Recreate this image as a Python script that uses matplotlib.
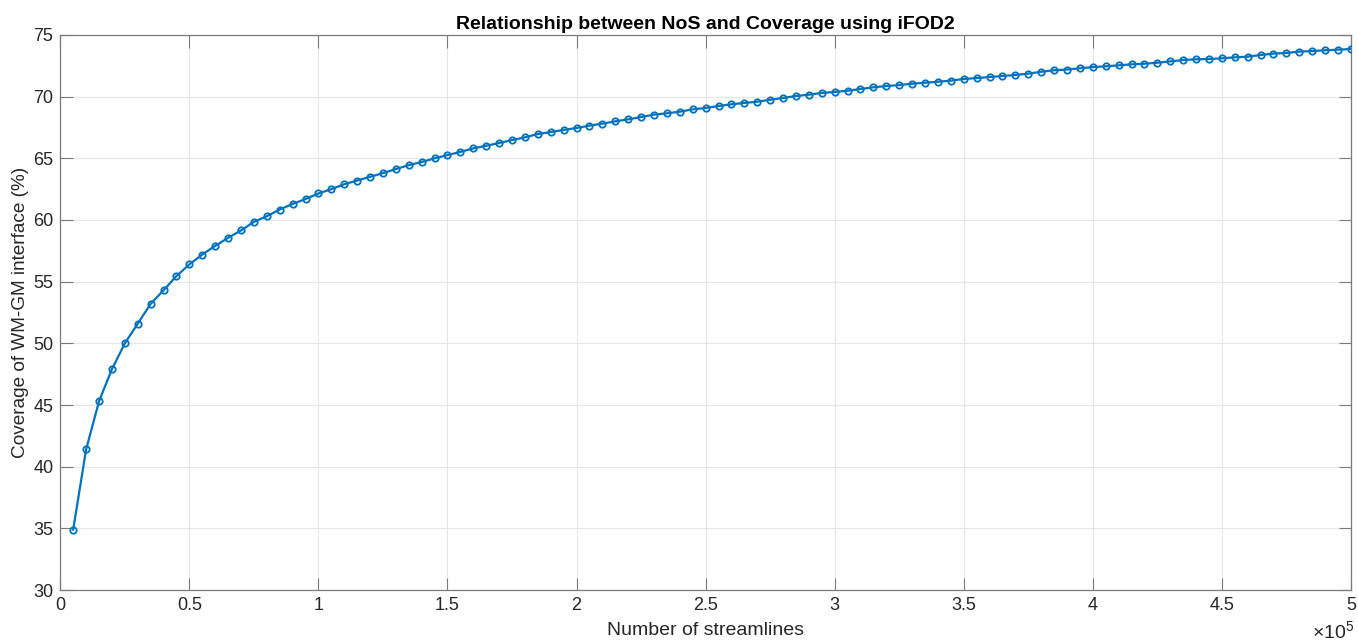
import numpy as np
import matplotlib
matplotlib.use("Agg")
import matplotlib.pyplot as plt
from matplotlib.ticker import FuncFormatter, MultipleLocator

plt.rcParams['font.family'] = ['Liberation Sans', 'DejaVu Sans']
plt.rcParams['mathtext.fontset'] = 'custom'
plt.rcParams['mathtext.rm'] = 'Liberation Sans'

# streamline counts (5k steps) and WM-GM coverage in %
n_streamlines = np.arange(5000, 500001, 5000)
coverage = [
    34.9, 41.4, 45.3, 47.9, 50.0, 51.6, 53.2, 54.3, 55.45, 56.4,
    57.2, 57.9, 58.55, 59.15, 59.85, 60.3, 60.85, 61.3, 61.7, 62.15,
    62.5, 62.9, 63.2, 63.5, 63.8, 64.13, 64.45, 64.7, 65.0, 65.26,
    65.52, 65.81, 66.02, 66.24, 66.48, 66.7, 66.97, 67.13, 67.3, 67.46,
    67.65, 67.81, 68.0, 68.16, 68.35, 68.54, 68.65, 68.78, 68.97, 69.08,
    69.24, 69.38, 69.49, 69.59, 69.75, 69.89, 70.05, 70.16, 70.3, 70.38,
    70.48, 70.62, 70.76, 70.86, 70.94, 71.05, 71.13, 71.21, 71.3, 71.43,
    71.51, 71.59, 71.67, 71.76, 71.86, 72.02, 72.14, 72.2, 72.3, 72.4,
    72.46, 72.54, 72.62, 72.67, 72.75, 72.86, 72.97, 73.03, 73.05, 73.11,
    73.19, 73.24, 73.38, 73.49, 73.54, 73.65, 73.7, 73.76, 73.81, 73.86,
]

axis_col = '#262626'

fig = plt.figure(figsize=(13.58, 6.43), dpi=100)
ax = fig.add_axes([0.0444, 0.0824, 0.9504, 0.8632])

ax.plot(n_streamlines, coverage, color='#0072BD', linewidth=1.6,
        marker='o', markersize=4.6, markerfacecolor='none',
        markeredgewidth=1.3, markeredgecolor='#0072BD', zorder=3)

ax.set_xlim(0, 5e5)
ax.set_ylim(30, 75)
ax.xaxis.set_major_locator(MultipleLocator(0.5e5))
ax.yaxis.set_major_locator(MultipleLocator(5))
ax.xaxis.set_major_formatter(FuncFormatter(lambda v, p: f"{v / 1e5:g}"))

ax.grid(True, color='#e6e6e6', linewidth=0.8, zorder=0)
ax.set_axisbelow(True)

for s in ax.spines.values():
    s.set_color('#7a7a7a')
    s.set_linewidth(0.9)

ax.tick_params(direction='in', length=9, width=0.8, color='#7a7a7a',
               top=True, right=True, labelsize=13, labelcolor=axis_col, pad=5)

ax.set_title('Relationship between NoS and Coverage using iFOD2',
             fontsize=14, fontweight='bold', color='black', pad=4)
ax.set_xlabel('Number of streamlines', fontsize=14, color=axis_col, labelpad=6)
ax.set_ylabel('Coverage of WM-GM interface (%)', fontsize=13.7, color=axis_col, labelpad=3)

# exponent note under the right end of the x axis
fig.text(1354 / 1358, 4 / 643, r'$\times10^5$', ha='right', va='baseline',
         fontsize=14, color=axis_col)

fig.savefig('out.png', dpi=100)
